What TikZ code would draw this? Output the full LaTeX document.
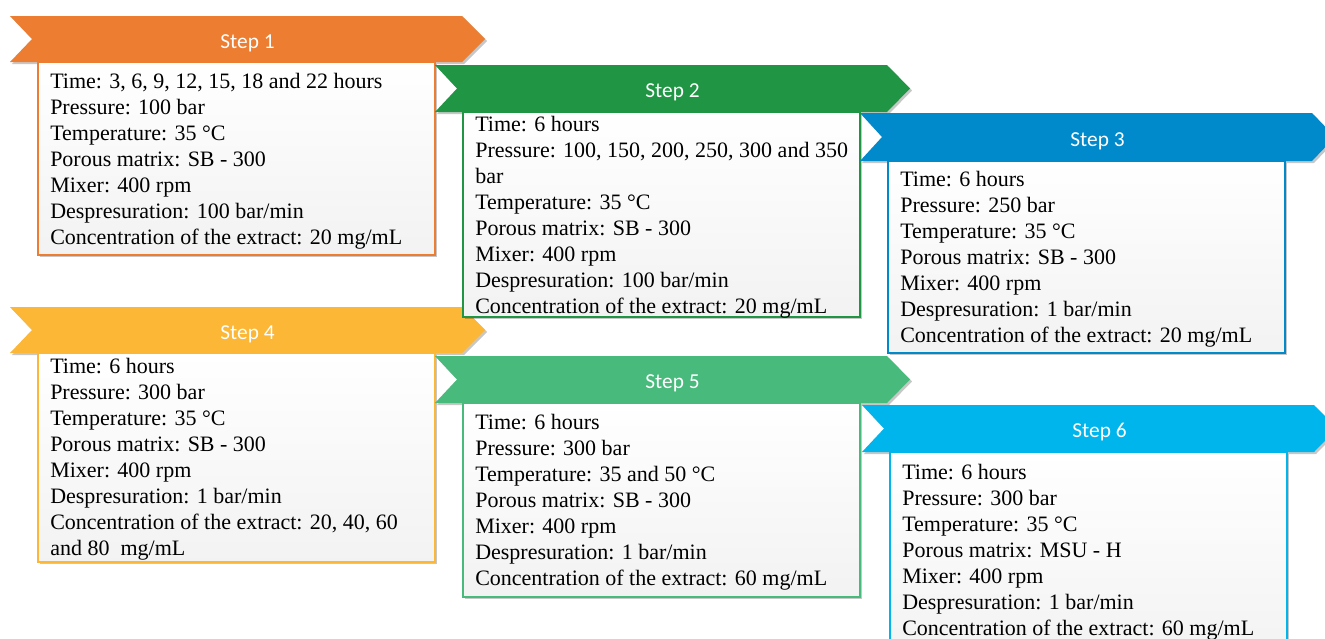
\documentclass[tikz,border=0pt]{standalone}
\usepackage{fontspec}
\setmainfont{Liberation Serif}
\newfontfamily\labelfont{Carlito}
\usetikzlibrary{shadows}
\definecolor{cA}{RGB}{237,125,49}
\definecolor{cB}{RGB}{32,150,68}
\definecolor{cC}{RGB}{0,138,204}
\definecolor{cD}{RGB}{251,183,53}
\definecolor{cE}{RGB}{72,186,124}
\definecolor{cF}{RGB}{0,180,236}
\tikzset{
  banner/.style={fill=#1, drop shadow={shadow xshift=1.5pt, shadow yshift=-1.5pt, fill=black, opacity=0.22}},
  infobox/.style={draw=#1, line width=0.9pt, top color=white, bottom color=black!5,
    drop shadow={shadow xshift=1.5pt, shadow yshift=-1.5pt, fill=black, opacity=0.22}},
  steplabel/.style={text=white, anchor=base, inner sep=0pt, font=\labelfont\fontsize{16}{18}\selectfont},
  info/.style={anchor=north west, align=left, inner sep=0pt, font=\fontsize{16.5}{19.5}\selectfont,
    execute at begin node={\rule{0pt}{15pt}}},
}
% #1 id, #2 colour, #3 left, #4 banner top, #5 banner bottom, #6 box bottom, #7 first baseline, #8 label, #9 text
\newcommand\stepblock[9]{%
  \fill[banner=#2] (#3,#4) -- ({#3+452},#4) -- ({#3+475},{(#4+#5)/2}) -- ({#3+452},#5)
     -- (#3,#5) -- ({#3+22},{(#4+#5)/2}) -- cycle;
  \node[steplabel] (lab#1) at ({#3+237.5},{(#4+#5)/2+9}) {#8};
  \draw[infobox=#2] ({#3+28},#5) rectangle ({#3+425},#6);
  \node[info] (txt#1) at ({#3+40},{#7-14}) {#9};
}
\begin{document}
\begin{tikzpicture}[x=0.75pt,y=-0.75pt]
\useasboundingbox (0,0) rectangle (1325,639);
\stepblock{1}{cA}{10}{16}{62}{255}{87}{Step 1}{Time: 3, 6, 9, 12, 15, 18 and 22 hours\\Pressure: 100 bar\\Temperature: 35 °C\\Porous matrix: SB - 300\\Mixer: 400 rpm\\Despresuration: 100 bar/min\\Concentration of the extract: 20 mg/mL}
\stepblock{4}{cD}{10}{307}{353}{562}{372}{Step 4}{Time: 6 hours\\Pressure: 300 bar\\Temperature: 35 °C\\Porous matrix: SB - 300\\Mixer: 400 rpm\\Despresuration: 1 bar/min\\Concentration of the extract: 20, 40, 60\\and 80\ \ mg/mL}
\stepblock{2}{cB}{435}{65}{112}{317}{130}{Step 2}{Time: 6 hours\\Pressure: 100, 150, 200, 250, 300 and 350\\bar\\Temperature: 35 °C\\Porous matrix: SB - 300\\Mixer: 400 rpm\\Despresuration: 100 bar/min\\Concentration of the extract: 20 mg/mL}
\stepblock{5}{cE}{435}{356}{403}{597}{428}{Step 5}{Time: 6 hours\\Pressure: 300 bar\\Temperature: 35 and 50 °C\\Porous matrix: SB - 300\\Mixer: 400 rpm\\Despresuration: 1 bar/min\\Concentration of the extract: 60 mg/mL}
\stepblock{3}{cC}{860}{113}{161}{353}{185}{Step 3}{Time: 6 hours\\Pressure: 250 bar\\Temperature: 35 °C\\Porous matrix: SB - 300\\Mixer: 400 rpm\\Despresuration: 1 bar/min\\Concentration of the extract: 20 mg/mL}
\stepblock{6}{cF}{862}{405}{452}{665}{478}{Step 6}{Time: 6 hours\\Pressure: 300 bar\\Temperature: 35 °C\\Porous matrix: MSU - H\\Mixer: 400 rpm\\Despresuration: 1 bar/min\\Concentration of the extract: 60 mg/mL}
\end{tikzpicture}
\end{document}
